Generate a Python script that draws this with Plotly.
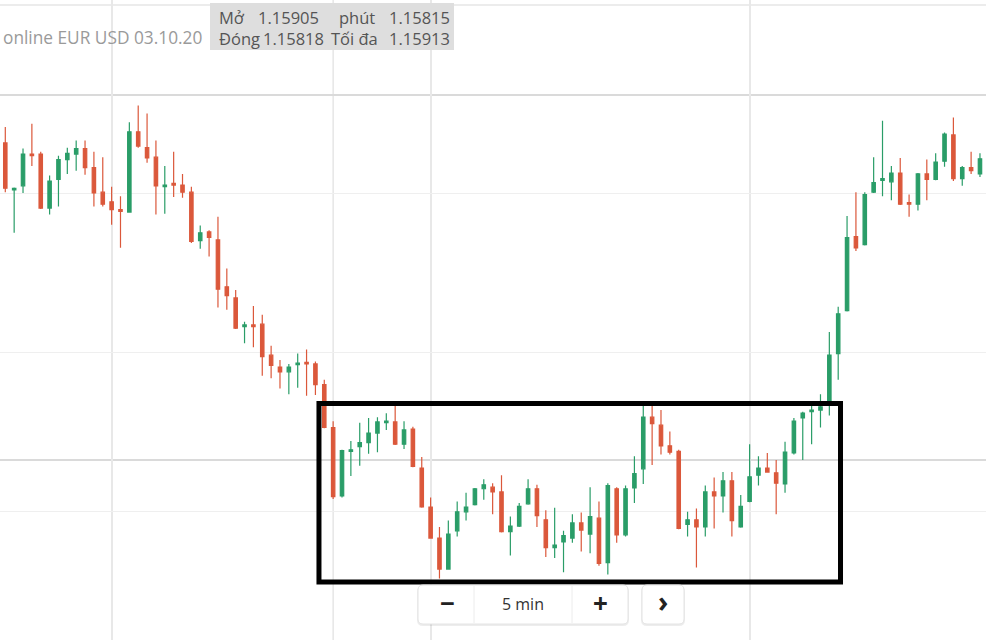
import plotly.graph_objects as go

# ---- data (EUR/USD, 5-minute candles) ----
times = [f"{11 + (i * 5) // 60:02d}:{(i * 5) % 60:02d}" for i in range(111)]

open_ = [1.16263, 1.16204, 1.16209, 1.16249, 1.16249, 1.16181, 1.16217, 1.16242, 1.16249, 1.16256,
         1.16232, 1.16201, 1.16189, 1.16179, 1.16176, 1.16277, 1.16257, 1.16245, 1.16208, 1.16212,
         1.16210, 1.16201, 1.16140, 1.16151, 1.16141, 1.16082, 1.16068, 1.16032, 1.16034, 1.16035,
         1.15996, 1.15981, 1.15975, 1.15984, 1.15987, 1.15985, 1.15959, 1.15905, 1.15819, 1.15875,
         1.15881, 1.15886, 1.15898, 1.15911, 1.15912, 1.15884, 1.15903, 1.15854, 1.15805, 1.15766,
         1.15727, 1.15775, 1.15799, 1.15808, 1.15828, 1.15830, 1.15824, 1.15774, 1.15781, 1.15809,
         1.15828, 1.15789, 1.15754, 1.15761, 1.15766, 1.15785, 1.15771, 1.15791, 1.15735, 1.15828,
         1.15770, 1.15829, 1.15853, 1.15918, 1.15908, 1.15882, 1.15875, 1.15783, 1.15789, 1.15780,
         1.15824, 1.15819, 1.15838, 1.15780, 1.15812, 1.15845, 1.15854, 1.15848, 1.15834, 1.15873,
         1.15917, 1.15925, 1.15927, 1.15934, 1.15998, 1.16052, 1.16145, 1.16135, 1.16201, 1.16216,
         1.16214, 1.16225, 1.16188, 1.16186, 1.16224, 1.16217, 1.16240, 1.16273, 1.16218, 1.16232,
         1.16224]
high = [1.16283, 1.16207, 1.16256, 1.16287, 1.16252, 1.16222, 1.16247, 1.16257, 1.16266, 1.16266,
        1.16252, 1.16245, 1.16208, 1.16196, 1.16289, 1.16310, 1.16300, 1.16266, 1.16234, 1.16252,
        1.16224, 1.16208, 1.16159, 1.16153, 1.16170, 1.16105, 1.16078, 1.16038, 1.16058, 1.16047,
        1.16008, 1.15990, 1.15985, 1.15998, 1.16003, 1.15988, 1.15965, 1.15913, 1.15877, 1.15888,
        1.15911, 1.15917, 1.15918, 1.15923, 1.15935, 1.15913, 1.15906, 1.15868, 1.15817, 1.15780,
        1.15788, 1.15812, 1.15823, 1.15829, 1.15840, 1.15835, 1.15845, 1.15793, 1.15810, 1.15840,
        1.15833, 1.15801, 1.15804, 1.15775, 1.15796, 1.15798, 1.15830, 1.15812, 1.15835, 1.15830,
        1.15832, 1.15869, 1.15937, 1.15937, 1.15927, 1.15900, 1.15877, 1.15799, 1.15803, 1.15832,
        1.15842, 1.15849, 1.15849, 1.15820, 1.15884, 1.15869, 1.15873, 1.15864, 1.15887, 1.15917,
        1.15925, 1.15935, 1.15947, 1.16025, 1.16057, 1.16171, 1.16201, 1.16201, 1.16245, 1.16291,
        1.16234, 1.16244, 1.16198, 1.16225, 1.16242, 1.16250, 1.16276, 1.16295, 1.16234, 1.16252,
        1.16250]
low = [1.16201, 1.16150, 1.16200, 1.16234, 1.16180, 1.16173, 1.16183, 1.16224, 1.16228, 1.16223,
       1.16183, 1.16183, 1.16160, 1.16131, 1.16175, 1.16257, 1.16238, 1.16173, 1.16174, 1.16195,
       1.16194, 1.16137, 1.16130, 1.16120, 1.16056, 1.16053, 1.16029, 1.16011, 1.16006, 1.15970,
       1.15967, 1.15954, 1.15947, 1.15955, 1.15945, 1.15946, 1.15904, 1.15815, 1.15817, 1.15844,
       1.15857, 1.15872, 1.15874, 1.15902, 1.15883, 1.15878, 1.15855, 1.15804, 1.15765, 1.15715,
       1.15726, 1.15768, 1.15788, 1.15807, 1.15814, 1.15796, 1.15773, 1.15744, 1.15780, 1.15808,
       1.15780, 1.15742, 1.15741, 1.15723, 1.15760, 1.15749, 1.15747, 1.15731, 1.15720, 1.15760,
       1.15768, 1.15810, 1.15834, 1.15858, 1.15871, 1.15871, 1.15777, 1.15768, 1.15729, 1.15768,
       1.15778, 1.15798, 1.15768, 1.15779, 1.15811, 1.15832, 1.15848, 1.15796, 1.15823, 1.15871,
       1.15864, 1.15884, 1.15905, 1.15920, 1.15965, 1.16051, 1.16127, 1.16134, 1.16200, 1.16196,
       1.16191, 1.16185, 1.16170, 1.16178, 1.16191, 1.16216, 1.16233, 1.16215, 1.16209, 1.16224,
       1.16220]
close = [1.16206, 1.16206, 1.16249, 1.16247, 1.16181, 1.16215, 1.16242, 1.16250, 1.16256, 1.16232,
         1.16200, 1.16186, 1.16179, 1.16177, 1.16277, 1.16259, 1.16244, 1.16209, 1.16210, 1.16210,
         1.16201, 1.16139, 1.16150, 1.16144, 1.16079, 1.16071, 1.16030, 1.16034, 1.16032, 1.15994,
         1.15983, 1.15975, 1.15981, 1.15986, 1.15985, 1.15959, 1.15905, 1.15818, 1.15876, 1.15877,
         1.15886, 1.15898, 1.15912, 1.15913, 1.15884, 1.15902, 1.15856, 1.15805, 1.15766, 1.15727,
         1.15771, 1.15799, 1.15805, 1.15828, 1.15833, 1.15824, 1.15774, 1.15781, 1.15806, 1.15828,
         1.15794, 1.15754, 1.15757, 1.15769, 1.15785, 1.15776, 1.15793, 1.15734, 1.15832, 1.15770,
         1.15828, 1.15847, 1.15918, 1.15910, 1.15882, 1.15874, 1.15778, 1.15789, 1.15780, 1.15824,
         1.15819, 1.15838, 1.15788, 1.15806, 1.15843, 1.15854, 1.15849, 1.15835, 1.15874, 1.15913,
         1.15923, 1.15927, 1.15931, 1.15996, 1.16048, 1.16144, 1.16131, 1.16198, 1.16213, 1.16218,
         1.16225, 1.16186, 1.16186, 1.16224, 1.16217, 1.16239, 1.16274, 1.16218, 1.16232, 1.16228,
         1.16243]

grid_times = ["12:00", "15:00", "18:00"]
grid_prices = [1.158, 1.160, 1.162]
crosshair_time_idx = 37
price_lines = [1.163233, 1.158641]

header_title = "online EUR USD 03.10.20"
info_labels = [("Mở", "1.15905", "phút", "1.15815"), ("Đóng", "1.15818", "Tối đa", "1.15913")]
box_range = (35.40, 94.26, 1.157107, 1.159352)

W, H = 986, 640
GREEN = "#2a9d68"
RED = "#db583b"


def X(p):
    return p / W


def Y(p):
    return 1 - p / H


fig = go.Figure()
fig.add_trace(go.Candlestick(
    x=times, open=open_, high=high, low=low, close=close,
    increasing=dict(line=dict(color=GREEN, width=1.2), fillcolor=GREEN),
    decreasing=dict(line=dict(color=RED, width=1.2), fillcolor=RED),
    whiskerwidth=0, showlegend=False, hoverinfo="skip",
))

shapes = []
# crosshair / price lines
shapes.append(dict(type="line", xref="x", yref="paper", x0=crosshair_time_idx, x1=crosshair_time_idx,
                   y0=0, y1=1, line=dict(color="#e6e6e6", width=1.5), layer="below"))
for pl in price_lines:
    shapes.append(dict(type="line", xref="paper", yref="y", x0=0, x1=1, y0=pl, y1=pl,
                       line=dict(color="#dadada", width=2), layer="below"))
shapes.append(dict(type="line", xref="paper", yref="paper", x0=0, x1=1, y0=Y(5), y1=Y(5),
                   line=dict(color="#ececec", width=2), layer="below"))

# highlighted range box
bx0, bx1, by0, by1 = box_range
shapes.append(dict(type="rect", xref="x", yref="y", x0=bx0, x1=bx1, y0=by0, y1=by1,
                   line=dict(color="black", width=5), layer="above"))

# header info box
shapes.append(dict(type="rect", xref="paper", yref="paper", x0=X(210), x1=X(454), y0=Y(50), y1=Y(3),
                   fillcolor="#dedede", line=dict(width=0), layer="above"))


def rrect(x0, y0, x1, y1, r):
    return (f"M {X(x0 + r)},{Y(y0)} L {X(x1 - r)},{Y(y0)} Q {X(x1)},{Y(y0)} {X(x1)},{Y(y0 + r)} "
            f"L {X(x1)},{Y(y1 - r)} Q {X(x1)},{Y(y1)} {X(x1 - r)},{Y(y1)} "
            f"L {X(x0 + r)},{Y(y1)} Q {X(x0)},{Y(y1)} {X(x0)},{Y(y1 - r)} "
            f"L {X(x0)},{Y(y0 + r)} Q {X(x0)},{Y(y0)} {X(x0 + r)},{Y(y0)} Z")


for (a, b) in [(418, 628), (642, 684)]:
    shapes.append(dict(type="path", xref="paper", yref="paper", path=rrect(a - 1, 586, b + 1, 626, 6),
                       fillcolor="rgba(0,0,0,0.07)", line=dict(width=0), layer="above"))
    shapes.append(dict(type="path", xref="paper", yref="paper", path=rrect(a, 585, b, 624, 5),
                       fillcolor="white", line=dict(color="#e4e4e4", width=1), layer="above"))
for dx in (474, 572):
    shapes.append(dict(type="line", xref="paper", yref="paper", x0=X(dx), x1=X(dx), y0=Y(586), y1=Y(623),
                       line=dict(color="#ececec", width=1), layer="above"))

annotations = []


def txt(s, x, y, size=16, color="#555555", anchor="left", bold=False):
    annotations.append(dict(text=(f"<b>{s}</b>" if bold else s), x=X(x), y=Y(y), xref="paper", yref="paper",
                            xanchor=anchor, yanchor="middle", showarrow=False, borderpad=0,
                            font=dict(family="Open Sans", size=size, color=color)))


txt(header_title, 2, 38, size=17.3, color="#9a9a9a")
row_y = [18, 39]
xpos = [(218, 257, 338, 388), (218, 262, 330, 388)]
for (l1, v1, l2, v2), yy, (a1, a2, a3, a4) in zip(info_labels, row_y, xpos):
    txt(l1, a1, yy, size=16.5)
    txt(v1, a2, yy, size=16.5)
    txt(l2, a3, yy, size=16.5)
    txt(v2, a4, yy, size=16.5)

txt("−", 447, 603, size=26, color="#222222", anchor="center", bold=True)
txt("5 min", 523, 604, size=16, color="#333333", anchor="center")
txt("+", 600, 603, size=26, color="#222222", anchor="center", bold=True)
txt("›", 663, 601, size=28, color="#222222", anchor="center", bold=True)

y_top = 1.160 + 352 * 0.002 / 159
y_bot = 1.160 - (640 - 352) * 0.002 / 159
fig.update_layout(
    width=W, height=H, margin=dict(l=0, r=0, t=0, b=0),
    paper_bgcolor="white", plot_bgcolor="white",
    boxgap=0.45,
    xaxis=dict(type="category", range=[-0.598, 110.68], rangeslider=dict(visible=False),
               tickvals=grid_times, showticklabels=False, showgrid=True, gridcolor="#e8e8e8",
               gridwidth=1.5, zeroline=False, showline=False, ticks=""),
    yaxis=dict(range=[y_bot, y_top], tickvals=grid_prices, showticklabels=False, showgrid=True,
               gridcolor="#efefef", gridwidth=1, zeroline=False, showline=False, ticks=""),
    shapes=shapes, annotations=annotations, hovermode=False,
)

fig.write_html("out.html", config={"displayModeBar": False})
